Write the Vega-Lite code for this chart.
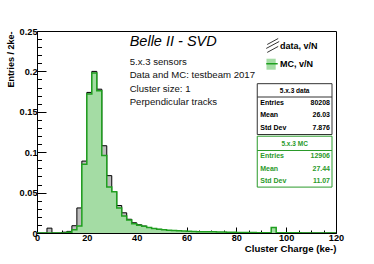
{
  "$schema": "https://vega.github.io/schema/vega-lite/v6.json",
  "width": 299,
  "height": 202,
  "autosize": {"type": "none"},
  "padding": {"left": 37, "top": 31, "right": 38, "bottom": 31},
  "background": "white",
  "config": {"view": {"stroke": "black", "strokeWidth": 1}, "font": "Liberation Sans"},
  "datasets": {
    "data": [
      {"x": 0, "v": 0}, {"x": 2, "v": 0}, {"x": 4, "v": 0.006}, {"x": 6, "v": 0}, {"x": 8, "v": 0},
      {"x": 10, "v": 0.001}, {"x": 12, "v": 0.002}, {"x": 14, "v": 0.009}, {"x": 16, "v": 0.031},
      {"x": 18, "v": 0.089}, {"x": 20, "v": 0.174}, {"x": 22, "v": 0.2}, {"x": 24, "v": 0.178},
      {"x": 26, "v": 0.108}, {"x": 28, "v": 0.071}, {"x": 30, "v": 0.051}, {"x": 32, "v": 0.034},
      {"x": 34, "v": 0.025}, {"x": 36, "v": 0.017}, {"x": 38, "v": 0.0127}, {"x": 40, "v": 0.0102},
      {"x": 42, "v": 0.0086}, {"x": 44, "v": 0.0066}, {"x": 46, "v": 0.0053}, {"x": 48, "v": 0.0045},
      {"x": 50, "v": 0.0037}, {"x": 52, "v": 0.003}, {"x": 54, "v": 0.0026}, {"x": 56, "v": 0.0021},
      {"x": 58, "v": 0.0018}, {"x": 60, "v": 0.0015}, {"x": 62, "v": 0.0013}, {"x": 64, "v": 0.0011},
      {"x": 66, "v": 0.001}, {"x": 68, "v": 0.0009}, {"x": 70, "v": 0.0008}, {"x": 72, "v": 0.0007},
      {"x": 74, "v": 0.0006}, {"x": 76, "v": 0.0005}, {"x": 78, "v": 0.0005}, {"x": 80, "v": 0.0004},
      {"x": 82, "v": 0.0004}, {"x": 84, "v": 0.0003}, {"x": 86, "v": 0.0003}, {"x": 88, "v": 0.0003},
      {"x": 90, "v": 0.0002}, {"x": 92, "v": 0.0002}, {"x": 94, "v": 0.0002}, {"x": 96, "v": 0.0002},
      {"x": 98, "v": 0.0001}, {"x": 100, "v": 0.0001}, {"x": 102, "v": 0.0001}, {"x": 104, "v": 0.0001},
      {"x": 106, "v": 0}, {"x": 108, "v": 0}, {"x": 110, "v": 0}, {"x": 112, "v": 0}, {"x": 114, "v": 0},
      {"x": 116, "v": 0}, {"x": 118, "v": 0}, {"x": 120, "v": 0}
    ],
    "mc": [
      {"x": 0, "v": 0}, {"x": 2, "v": 0}, {"x": 4, "v": 0}, {"x": 6, "v": 0}, {"x": 8, "v": 0},
      {"x": 10, "v": 0}, {"x": 12, "v": 0.001}, {"x": 14, "v": 0.004}, {"x": 16, "v": 0.0086},
      {"x": 18, "v": 0.085}, {"x": 20, "v": 0.172}, {"x": 22, "v": 0.198}, {"x": 24, "v": 0.176},
      {"x": 26, "v": 0.096}, {"x": 28, "v": 0.057}, {"x": 30, "v": 0.051}, {"x": 32, "v": 0.031},
      {"x": 34, "v": 0.021}, {"x": 36, "v": 0.016}, {"x": 38, "v": 0.0115}, {"x": 40, "v": 0.0095},
      {"x": 42, "v": 0.0085}, {"x": 44, "v": 0.0068}, {"x": 46, "v": 0.0055}, {"x": 48, "v": 0.0045},
      {"x": 50, "v": 0.004}, {"x": 52, "v": 0.0035}, {"x": 54, "v": 0.003}, {"x": 56, "v": 0.0028},
      {"x": 58, "v": 0.0025}, {"x": 60, "v": 0.0021}, {"x": 62, "v": 0.0019}, {"x": 64, "v": 0.0017},
      {"x": 66, "v": 0.0015}, {"x": 68, "v": 0.0014}, {"x": 70, "v": 0.0015}, {"x": 72, "v": 0.0013},
      {"x": 74, "v": 0.0011}, {"x": 76, "v": 0.0009}, {"x": 78, "v": 0.0008}, {"x": 80, "v": 0.0007},
      {"x": 82, "v": 0.0006}, {"x": 84, "v": 0.0005}, {"x": 86, "v": 0.0005}, {"x": 88, "v": 0.0004},
      {"x": 90, "v": 0.0004}, {"x": 92, "v": 0.0003}, {"x": 94, "v": 0.0068}, {"x": 96, "v": 0.0003},
      {"x": 98, "v": 0.0003}, {"x": 100, "v": 0.0002}, {"x": 102, "v": 0.0002}, {"x": 104, "v": 0.0002},
      {"x": 106, "v": 0.0001}, {"x": 108, "v": 0.0001}, {"x": 110, "v": 0.0001}, {"x": 112, "v": 0.0001},
      {"x": 114, "v": 0.0001}, {"x": 116, "v": 0.0001}, {"x": 118, "v": 0.0001}, {"x": 120, "v": 0}
    ],
    "one": [{}]
  },
  "resolve": {"axis": {"x": "independent", "y": "independent"}},
  "layer": [
    {
      "data": {"name": "data"},
      "mark": {"type": "area", "interpolate": "step-after", "fill": "#bdbdbd", "clip": true},
      "encoding": {
        "x": {"field": "x", "type": "quantitative", "scale": {"domain": [0, 120], "nice": false},
          "axis": {"orient": "bottom", "values": [0, 20, 40, 60, 80, 100, 120], "format": "d", "tickSize": -6, "tickColor": "black", "domainColor": "black", "grid": false,
            "labelFont": "Liberation Sans", "labelFontWeight": "bold", "labelFontSize": 9.2, "labelColor": "black", "labelFlush": false, "labelOverlap": false, "labelPadding": 6,
            "title": "Cluster Charge (ke-)", "titleAnchor": "end", "titleFont": "Liberation Sans", "titleFontWeight": "bold", "titleFontSize": 9.6, "titleColor": "black", "titlePadding": 1}},
        "y": {"field": "v", "type": "quantitative", "scale": {"domain": [0, 0.25], "nice": false},
          "axis": {"orient": "left", "values": [0, 0.05, 0.1, 0.15, 0.2, 0.25], "format": "~g", "tickSize": -9, "tickColor": "black", "domainColor": "black", "grid": false,
            "labelFont": "Liberation Sans", "labelFontWeight": "bold", "labelFontSize": 9.2, "labelColor": "black", "labelFlush": false, "labelOverlap": false, "labelPadding": 9,
            "title": "Entries / 2ke-", "titleAnchor": "end", "titleFont": "Liberation Sans", "titleFontWeight": "bold", "titleFontSize": 9, "titleColor": "black", "titlePadding": 4}}
      }
    },
    {
      "data": {"name": "data"},
      "mark": {"type": "line", "interpolate": "step-after", "color": "black", "strokeWidth": 1, "clip": true},
      "encoding": {
        "x": {"field": "x", "type": "quantitative", "scale": {"domain": [0, 120], "nice": false},
          "axis": {"orient": "bottom", "values": [5, 10, 15, 25, 30, 35, 45, 50, 55, 65, 70, 75, 85, 90, 95, 105, 110, 115], "tickSize": -3, "tickColor": "black", "labels": false, "domain": false, "grid": false, "title": null}},
        "y": {"field": "v", "type": "quantitative", "scale": {"domain": [0, 0.25], "nice": false},
          "axis": {"orient": "left", "values": [0.01, 0.02, 0.03, 0.04, 0.06, 0.07, 0.08, 0.09, 0.11, 0.12, 0.13, 0.14, 0.16, 0.17, 0.18, 0.19, 0.21, 0.22, 0.23, 0.24], "tickSize": -4.5, "tickColor": "black", "labels": false, "domain": false, "grid": false, "title": null}}
      }
    },
    {
      "data": {"name": "mc"},
      "mark": {"type": "area", "interpolate": "step-after", "fill": "#a4dca4", "clip": true},
      "encoding": {
        "x": {"field": "x", "type": "quantitative", "axis": null},
        "y": {"field": "v", "type": "quantitative", "axis": null}
      }
    },
    {
      "data": {"name": "mc"},
      "mark": {"type": "line", "interpolate": "step-after", "color": "#1f9f1f", "strokeWidth": 1.5, "clip": true},
      "encoding": {
        "x": {"field": "x", "type": "quantitative", "axis": null},
        "y": {"field": "v", "type": "quantitative", "axis": null}
      }
    },
    {
      "data": {"name": "one"},
      "mark": {"type": "text", "text": "Belle II - SVD", "font": "Liberation Sans", "fontStyle": "italic", "fontSize": 14.5, "align": "left", "baseline": "middle", "color": "black"},
      "encoding": {"x": {"datum": 37.2, "type": "quantitative", "axis": null}, "y": {"datum": 0.2362, "type": "quantitative", "axis": null}}
    },
    {
      "data": {"name": "one"},
      "mark": {"type": "text", "text": ["5.x.3 sensors", "Data and MC: testbeam 2017", "Cluster size: 1", "Perpendicular tracks"], "lineHeight": 13.3, "font": "Liberation Sans", "fontSize": 9.6, "align": "left", "baseline": "middle", "color": "#111"},
      "encoding": {"x": {"datum": 37.2, "type": "quantitative", "axis": null}, "y": {"datum": 0.2115, "type": "quantitative", "axis": null}}
    },
    {
      "data": {"name": "one"},
      "mark": {"type": "rule", "color": "black", "strokeWidth": 0.8},
      "encoding": {"x": {"datum": 92.4, "type": "quantitative", "axis": null}, "x2": {"datum": 96.8}, "y": {"datum": 0.2333, "type": "quantitative", "axis": null}, "y2": {"datum": 0.2407}}
    },
    {
      "data": {"name": "one"},
      "mark": {"type": "rule", "color": "black", "strokeWidth": 0.8},
      "encoding": {"x": {"datum": 92.0, "type": "quantitative", "axis": null}, "x2": {"datum": 97.2}, "y": {"datum": 0.2284, "type": "quantitative", "axis": null}, "y2": {"datum": 0.237}}
    },
    {
      "data": {"name": "one"},
      "mark": {"type": "rule", "color": "black", "strokeWidth": 0.8},
      "encoding": {"x": {"datum": 92.4, "type": "quantitative", "axis": null}, "x2": {"datum": 96.8}, "y": {"datum": 0.2235, "type": "quantitative", "axis": null}, "y2": {"datum": 0.2309}}
    },
    {
      "data": {"name": "one"},
      "mark": {"type": "rect", "fill": "#a4dca4"},
      "encoding": {"x": {"datum": 92.1, "type": "quantitative", "axis": null}, "x2": {"datum": 95.8}, "y": {"datum": 0.2157, "type": "quantitative", "axis": null}, "y2": {"datum": 0.2021}}
    },
    {
      "data": {"name": "one"},
      "mark": {"type": "rule", "color": "#1f9f1f", "strokeWidth": 1.5},
      "encoding": {"x": {"datum": 92.0, "type": "quantitative", "axis": null}, "x2": {"datum": 96.6}, "y": {"datum": 0.2095, "type": "quantitative", "axis": null}}
    },
    {
      "data": {"name": "one"},
      "mark": {"type": "text", "text": "data, v/N", "font": "Liberation Sans", "fontWeight": "bold", "fontSize": 9, "align": "left", "baseline": "middle", "color": "black"},
      "encoding": {"x": {"datum": 97.5, "type": "quantitative", "axis": null}, "y": {"datum": 0.2312, "type": "quantitative", "axis": null}}
    },
    {
      "data": {"name": "one"},
      "mark": {"type": "text", "text": "MC, v/N", "font": "Liberation Sans", "fontWeight": "bold", "fontSize": 9, "align": "left", "baseline": "middle", "color": "black"},
      "encoding": {"x": {"datum": 97.5, "type": "quantitative", "axis": null}, "y": {"datum": 0.2095, "type": "quantitative", "axis": null}}
    },
    {
      "data": {"name": "one"},
      "mark": {"type": "rect", "fill": "white", "stroke": "#333", "strokeWidth": 1},
      "encoding": {"x": {"datum": 88.4, "type": "quantitative", "axis": null}, "x2": {"datum": 118.4}, "y": {"datum": 0.1848, "type": "quantitative", "axis": null}, "y2": {"datum": 0.1219}}
    },
    {
      "data": {"name": "one"},
      "mark": {"type": "rule", "color": "#333", "strokeWidth": 1},
      "encoding": {"x": {"datum": 88.4, "type": "quantitative", "axis": null}, "x2": {"datum": 118.4}, "y": {"datum": 0.1683, "type": "quantitative", "axis": null}}
    },
    {
      "data": {"name": "one"},
      "mark": {"type": "text", "text": "5.x.3 data", "font": "Liberation Sans", "fontWeight": "bold", "fontSize": 6.5, "align": "center", "baseline": "middle", "color": "black"},
      "encoding": {"x": {"datum": 103.4, "type": "quantitative", "axis": null}, "y": {"datum": 0.1762, "type": "quantitative", "axis": null}}
    },
    {
      "data": {"name": "one"},
      "mark": {"type": "text", "text": ["Entries", "Mean", "Std Dev"], "lineHeight": 12.85, "font": "Liberation Sans", "fontWeight": "bold", "fontSize": 7, "align": "left", "baseline": "middle", "color": "black"},
      "encoding": {"x": {"datum": 89.6, "type": "quantitative", "axis": null}, "y": {"datum": 0.1614, "type": "quantitative", "axis": null}}
    },
    {
      "data": {"name": "one"},
      "mark": {"type": "text", "text": ["80208", "26.03", "7.876"], "lineHeight": 12.85, "font": "Liberation Sans", "fontWeight": "bold", "fontSize": 7, "align": "right", "baseline": "middle", "color": "black"},
      "encoding": {"x": {"datum": 117.6, "type": "quantitative", "axis": null}, "y": {"datum": 0.1614, "type": "quantitative", "axis": null}}
    },
    {
      "data": {"name": "one"},
      "mark": {"type": "rect", "fill": "white", "stroke": "#2a9a2a", "strokeWidth": 1},
      "encoding": {"x": {"datum": 88.4, "type": "quantitative", "axis": null}, "x2": {"datum": 118.4}, "y": {"datum": 0.1198, "type": "quantitative", "axis": null}, "y2": {"datum": 0.0568}}
    },
    {
      "data": {"name": "one"},
      "mark": {"type": "rule", "color": "#2a9a2a", "strokeWidth": 1},
      "encoding": {"x": {"datum": 88.4, "type": "quantitative", "axis": null}, "x2": {"datum": 118.4}, "y": {"datum": 0.1021, "type": "quantitative", "axis": null}}
    },
    {
      "data": {"name": "one"},
      "mark": {"type": "text", "text": "5.x.3 MC", "font": "Liberation Sans", "fontWeight": "bold", "fontSize": 6.5, "align": "center", "baseline": "middle", "color": "#2a9a2a"},
      "encoding": {"x": {"datum": 103.4, "type": "quantitative", "axis": null}, "y": {"datum": 0.1102, "type": "quantitative", "axis": null}}
    },
    {
      "data": {"name": "one"},
      "mark": {"type": "text", "text": ["Entries", "Mean", "Std Dev"], "lineHeight": 12.35, "font": "Liberation Sans", "fontWeight": "bold", "fontSize": 7, "align": "left", "baseline": "middle", "color": "#2a9a2a"},
      "encoding": {"x": {"datum": 89.6, "type": "quantitative", "axis": null}, "y": {"datum": 0.0947, "type": "quantitative", "axis": null}}
    },
    {
      "data": {"name": "one"},
      "mark": {"type": "text", "text": ["12906", "27.44", "11.07"], "lineHeight": 12.35, "font": "Liberation Sans", "fontWeight": "bold", "fontSize": 7, "align": "right", "baseline": "middle", "color": "#2a9a2a"},
      "encoding": {"x": {"datum": 117.6, "type": "quantitative", "axis": null}, "y": {"datum": 0.0947, "type": "quantitative", "axis": null}}
    }
  ]
}
